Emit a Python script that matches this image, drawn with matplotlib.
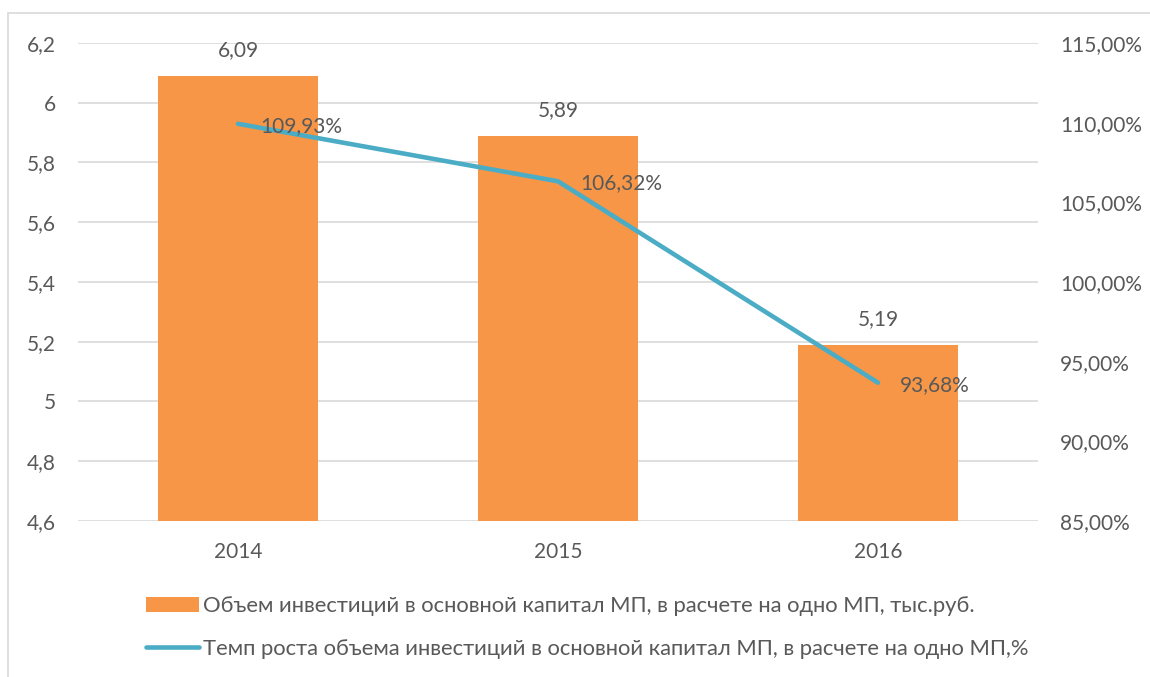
import matplotlib.pyplot as plt
from matplotlib.patches import Rectangle
from matplotlib.ticker import FuncFormatter, MultipleLocator

plt.rcParams['font.family'] = ['Lato', 'DejaVu Sans']

years = ['2014', '2015', '2016']
volume = [6.09, 5.89, 5.19]
growth = [109.93, 106.32, 93.68]
volume_labels = ['6,09', '5,89', '5,19']
growth_labels = ['109,93%', '106,32%', '93,68%']

bar_name = 'Объем инвестиций в основной капитал МП, в расчете на одно МП, тыс.руб.'
line_name = 'Темп роста объема инвестиций в основной капитал МП, в расчете на одно МП,%'

txt = '#595959'
grid_c = '#d9d9d9'
orange = '#f79646'
blue = '#4bacc6'
fs = 15

fig = plt.figure(figsize=(11.5, 6.77), dpi=100)
fig.patches.append(Rectangle((8 / 1150, -0.1), 1.2, 1 - 13 / 677 + 0.1,
                             transform=fig.transFigure, fill=False,
                             edgecolor=grid_c, linewidth=1.2))

ax = fig.add_axes([78 / 1150, 1 - 521 / 677, 960 / 1150, 478 / 677])
ax2 = ax.twinx()

x = range(len(years))
bars = ax.bar(x, volume, width=0.5, color=orange, label=bar_name, zorder=2)
ax.set_ylim(4.6, 6.2)
ax.set_xlim(-0.5, 2.5)
ax.yaxis.set_major_locator(MultipleLocator(0.2))
ax.yaxis.set_major_formatter(FuncFormatter(lambda v, p: f'{v:g}'.replace('.', ',')))
ax.grid(axis='y', color=grid_c, linewidth=1.2, zorder=0)
ax.set_axisbelow(True)
ax.set_xticks(list(x))
ax.set_xticklabels(years)
for xi, v, lab in zip(x, volume, volume_labels):
    ax.annotate(lab, (xi, v), xytext=(0, 11), textcoords='offset points',
                ha='center', va='bottom', fontsize=fs, color=txt)

ln, = ax2.plot(list(x), growth, color=blue, linewidth=3.3, label=line_name,
               solid_capstyle='round', zorder=3)
ax2.set_ylim(85, 115)
ax2.yaxis.set_major_locator(MultipleLocator(5))
ax2.yaxis.set_major_formatter(FuncFormatter(lambda v, p: f'{v:.2f}%'.replace('.', ',')))
for xi, v, lab in zip(x, growth, growth_labels):
    ax2.annotate(lab, (xi, v), xytext=(16, -1.5), textcoords='offset points',
                 ha='left', va='center', fontsize=fs, color=txt)

for a in (ax, ax2):
    for s in a.spines.values():
        s.set_visible(False)
    a.tick_params(length=0, labelsize=fs, labelcolor=txt)
ax.tick_params(axis='y', pad=16)
ax.tick_params(axis='x', pad=15)
ax2.tick_params(axis='y', pad=16)

fig.legend([bars, ln], [bar_name, line_name], loc='upper left',
           bbox_to_anchor=(146 / 1150, 1 - 596 / 677), frameon=False,
           borderpad=0, borderaxespad=0,
           fontsize=15.8, labelcolor=txt, handlelength=2.4, handletextpad=0.2,
           labelspacing=1.05)

fig.savefig('out.png', dpi=100)
